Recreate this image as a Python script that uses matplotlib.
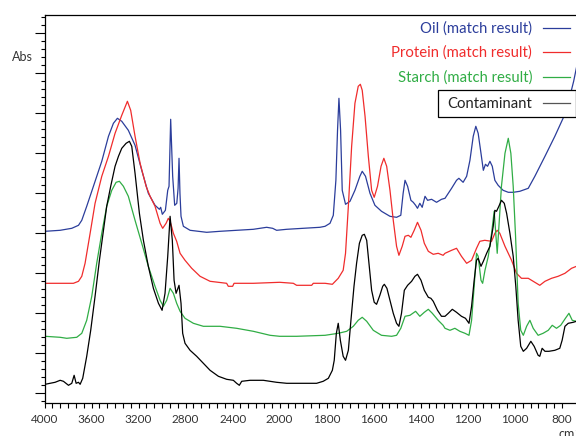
import numpy as np
import matplotlib
matplotlib.use("Agg")
import matplotlib.pyplot as plt
from matplotlib.ticker import FixedLocator, NullFormatter, FixedFormatter

plt.rcParams['font.family'] = ['Lato', 'DejaVu Sans']

# --- spectra (wavenumber cm-1, absorbance, offset traces) ---
oil_wn = [3995, 3867, 3768, 3711, 3683, 3641, 3584, 3513, 3456, 3414, 3380, 3343, 3287, 3230,
          3173, 3117, 3060, 3023, 3012, 2998, 2972, 2952, 2941, 2927, 2910, 2893, 2875, 2864,
          2856, 2848, 2839, 2819, 2762, 2621, 2507, 2366, 2224, 2111, 2060, 2026, 1970, 1900,
          1829, 1807, 1786, 1772, 1761, 1754, 1748, 1741, 1734, 1720, 1701, 1680, 1659, 1649,
          1635, 1616, 1595, 1567, 1531, 1503, 1485, 1475, 1467, 1456, 1442, 1432, 1422, 1414,
          1404, 1394, 1382, 1371, 1354, 1333, 1312, 1297, 1269, 1248, 1238, 1220, 1205, 1191,
          1177, 1166, 1156, 1144, 1134, 1125, 1116, 1106, 1096, 1085, 1071, 1050, 1028, 1007,
          979, 943, 915, 872, 830, 795, 766, 750, 736]
oil_abs = [1.62, 1.63, 1.65, 1.68, 1.73, 1.87, 2.07, 2.32, 2.57, 2.70, 2.75, 2.72, 2.63, 2.48,
           2.23, 2.00, 1.88, 1.84, 1.86, 1.79, 1.83, 2.03, 2.07, 2.74, 2.17, 1.88, 1.90, 2.05,
           2.35, 2.00, 1.77, 1.67, 1.63, 1.61, 1.62, 1.63, 1.64, 1.66, 1.65, 1.63, 1.64, 1.65,
           1.66, 1.67, 1.70, 1.78, 2.13, 2.63, 2.95, 2.63, 2.03, 1.89, 1.92, 2.03, 2.17, 2.22,
           2.17, 2.00, 1.88, 1.82, 1.77, 1.76, 1.78, 2.00, 2.13, 2.07, 1.93, 1.91, 1.88, 1.85,
           1.90, 1.86, 1.97, 1.93, 1.94, 1.91, 1.94, 1.95, 2.05, 2.13, 2.15, 2.11, 2.17, 2.33,
           2.57, 2.67, 2.60, 2.40, 2.23, 2.29, 2.27, 2.32, 2.27, 2.13, 2.08, 2.03, 2.01, 2.01,
           2.02, 2.05, 2.17, 2.37, 2.57, 2.75, 2.97, 3.12, 3.28]

protein_wn = [3995, 3867, 3754, 3711, 3683, 3655, 3612, 3570, 3513, 3456, 3400, 3343, 3295, 3267,
              3230, 3187, 3136, 3102, 3060, 3017, 2995, 2966, 2947, 2932, 2915, 2904, 2876, 2847,
              2805, 2748, 2677, 2592, 2451, 2437, 2400, 2388, 2224, 2000, 1942, 1928, 1864, 1857,
              1807, 1776, 1751, 1730, 1720, 1708, 1694, 1680, 1666, 1657, 1649, 1637, 1623, 1609,
              1598, 1584, 1569, 1557, 1545, 1531, 1517, 1503, 1493, 1479, 1467, 1453, 1442, 1428,
              1414, 1399, 1385, 1368, 1347, 1326, 1305, 1297, 1269, 1248, 1227, 1205, 1184, 1163,
              1149, 1128, 1099, 1085, 1075, 1064, 1042, 1014, 993, 972, 943, 922, 894, 872,
              844, 816, 787, 759, 738]
protein_abs = [1.10, 1.10, 1.10, 1.12, 1.17, 1.30, 1.60, 1.90, 2.17, 2.37, 2.60, 2.78, 2.92, 2.83,
               2.57, 2.30, 2.07, 1.97, 1.87, 1.70, 1.65, 1.70, 1.75, 1.72, 1.65, 1.60, 1.52, 1.40,
               1.33, 1.25, 1.17, 1.12, 1.10, 1.07, 1.07, 1.10, 1.10, 1.11, 1.10, 1.08, 1.08, 1.10,
               1.10, 1.09, 1.15, 1.23, 1.40, 1.87, 2.47, 2.90, 3.07, 3.09, 3.03, 2.77, 2.37, 2.03,
               1.96, 2.07, 2.27, 2.35, 2.27, 2.03, 1.73, 1.47, 1.38, 1.47, 1.57, 1.58, 1.56, 1.63,
               1.71, 1.63, 1.50, 1.42, 1.39, 1.40, 1.38, 1.40, 1.43, 1.45, 1.37, 1.30, 1.33, 1.45,
               1.52, 1.53, 1.52, 1.60, 1.63, 1.60, 1.47, 1.33, 1.20, 1.15, 1.15, 1.12, 1.08, 1.12,
               1.15, 1.17, 1.20, 1.25, 1.27]

starch_wn = [3995, 3867, 3811, 3726, 3683, 3641, 3598, 3556, 3513, 3471, 3428, 3391, 3363, 3329,
             3287, 3230, 3173, 3117, 3060, 3017, 2989, 2961, 2932, 2904, 2876, 2847, 2805, 2734,
             2649, 2507, 2366, 2224, 2082, 2000, 1928, 1807, 1751, 1715, 1687, 1666, 1649, 1630,
             1602, 1567, 1524, 1503, 1485, 1467, 1446, 1422, 1404, 1385, 1368, 1351, 1326, 1305,
             1297, 1276, 1255, 1234, 1212, 1195, 1184, 1173, 1163, 1156, 1144, 1137, 1127, 1113,
             1099, 1088, 1075, 1057, 1042, 1028, 1017, 1007, 997, 986, 975, 964, 950, 936,
             922, 901, 880, 858, 841, 823, 805, 785, 770, 756, 738]
starch_abs = [0.57, 0.56, 0.55, 0.56, 0.60, 0.73, 0.97, 1.30, 1.60, 1.87, 2.03, 2.11, 2.12, 2.07,
              1.97, 1.73, 1.50, 1.27, 1.07, 0.93, 0.87, 0.93, 1.05, 1.00, 0.90, 0.82, 0.75, 0.70,
              0.67, 0.67, 0.65, 0.62, 0.58, 0.57, 0.57, 0.58, 0.60, 0.62, 0.67, 0.73, 0.76, 0.72,
              0.63, 0.58, 0.57, 0.58, 0.65, 0.77, 0.78, 0.82, 0.77, 0.81, 0.84, 0.80, 0.73, 0.68,
              0.65, 0.63, 0.65, 0.62, 0.60, 0.58, 0.73, 1.07, 1.40, 1.37, 1.13, 1.10, 1.23, 1.37,
              1.60, 1.82, 1.40, 2.07, 2.40, 2.55, 2.40, 2.07, 1.57, 0.90, 0.63, 0.58, 0.67, 0.73,
              0.65, 0.58, 0.60, 0.63, 0.68, 0.65, 0.68, 0.75, 0.80, 0.73, 0.72]

contam_wn = [3995, 3952, 3910, 3867, 3839, 3796, 3768, 3748, 3731, 3711, 3697, 3675, 3641, 3607,
             3570, 3533, 3499, 3471, 3437, 3400, 3371, 3343, 3306, 3278, 3258, 3230, 3193, 3159,
             3117, 3074, 3031, 3000, 2975, 2952, 2932, 2913, 2898, 2881, 2856, 2839, 2825, 2805,
             2762, 2706, 2649, 2592, 2521, 2451, 2394, 2366, 2343, 2323, 2252, 2139, 2026, 1970,
             1885, 1843, 1815, 1793, 1776, 1768, 1759, 1751, 1742, 1730, 1720, 1708, 1697, 1684,
             1673, 1661, 1649, 1640, 1630, 1619, 1609, 1598, 1588, 1574, 1562, 1555, 1544, 1531,
             1517, 1503, 1493, 1482, 1470, 1456, 1439, 1425, 1414, 1399, 1385, 1368, 1357, 1347,
             1329, 1312, 1297, 1283, 1266, 1248, 1227, 1210, 1195, 1184, 1173, 1163, 1156, 1144,
             1134, 1120, 1106, 1092, 1085, 1078, 1068, 1057, 1045, 1035, 1021, 1007, 996, 986,
             975, 964, 950, 932, 918, 901, 894, 884, 872, 855, 830, 809, 799, 787,
             773, 752, 738]
contam_abs = [0.09, 0.10, 0.11, 0.13, 0.12, 0.08, 0.10, 0.18, 0.10, 0.11, 0.09, 0.15, 0.37, 0.63,
              0.97, 1.33, 1.63, 1.87, 2.07, 2.27, 2.37, 2.45, 2.50, 2.52, 2.47, 2.20, 1.80, 1.53,
              1.27, 1.05, 0.90, 0.83, 1.00, 1.37, 1.77, 1.53, 1.13, 1.00, 1.08, 0.90, 0.60, 0.50,
              0.43, 0.37, 0.30, 0.23, 0.17, 0.14, 0.13, 0.10, 0.08, 0.12, 0.13, 0.13, 0.11, 0.10,
              0.10, 0.10, 0.12, 0.15, 0.23, 0.33, 0.60, 0.70, 0.53, 0.37, 0.33, 0.43, 0.73, 1.07,
              1.30, 1.50, 1.58, 1.59, 1.53, 1.27, 1.03, 0.91, 0.89, 0.98, 1.07, 1.09, 1.05, 0.93,
              0.80, 0.70, 0.67, 0.80, 1.03, 1.08, 1.12, 1.17, 1.19, 1.13, 1.03, 0.96, 0.95, 0.92,
              0.83, 0.77, 0.77, 0.80, 0.84, 0.81, 0.77, 0.75, 0.70, 0.87, 1.13, 1.33, 1.35, 1.27,
              1.32, 1.40, 1.47, 1.67, 1.83, 1.82, 1.87, 1.93, 1.90, 1.80, 1.60, 1.37, 1.07, 0.73,
              0.47, 0.42, 0.45, 0.52, 0.47, 0.38, 0.37, 0.45, 0.42, 0.42, 0.43, 0.45, 0.53, 0.67,
              0.70, 0.71, 0.72]

series = [
    ("Oil (match result)", oil_wn, oil_abs, "#2b3d9b"),
    ("Protein (match result)", protein_wn, protein_abs, "#f02c2c"),
    ("Starch (match result)", starch_wn, starch_abs, "#30ad45"),
    ("Contaminant", contam_wn, contam_abs, "#000000"),
]

major_wn = [4000, 3600, 3200, 2800, 2400, 2000, 1800, 1600, 1400, 1200, 1000, 800]


# FTIR style axis: scale doubles below 2000 cm-1
def fwd(w):
    w = np.asarray(w, dtype=float)
    return np.where(w >= 2000, (w - 2000) / 400.0, (w - 2000) / 200.0)


def inv(u):
    u = np.asarray(u, dtype=float)
    return np.where(u >= 0, 2000 + 400.0 * u, 2000 + 200.0 * u)


W, H = 576, 436
fig = plt.figure(figsize=(W / 100, H / 100), dpi=100)
ax = fig.add_axes([44.5 / W, (H - 402.7) / H, (W - 44.5) / W, 388.0 / H])

for name, wn, ab, col in series:
    ax.plot(wn, ab, color=col, lw=0.9)

ax.set_xscale('function', functions=(fwd, inv))
ax.set_xlim(4000, 740)
ax.set_ylim(-0.094, 3.786)

# ticks
minor_wn = []
for a, b in zip(major_wn[:-1], major_wn[1:]):
    minor_wn += list(np.linspace(a, b, 7)[1:-1])
ax.xaxis.set_major_locator(FixedLocator(major_wn))
ax.xaxis.set_major_formatter(FixedFormatter([str(v) for v in major_wn]))
ax.xaxis.set_minor_locator(FixedLocator(minor_wn))
ax.xaxis.set_minor_formatter(NullFormatter())

ax.yaxis.set_major_locator(FixedLocator(np.arange(0, 3.7, 0.4)))
ax.yaxis.set_minor_locator(FixedLocator(np.arange(-0.08, 3.78, 0.08)))
ax.yaxis.set_major_formatter(NullFormatter())

ax.tick_params(axis='x', which='both', direction='out', length=3.4, width=0.8,
               labelsize=8.5, labelcolor='#333333', pad=5)
ax.tick_params(axis='y', which='major', direction='out', length=7.2, width=0.8)
ax.tick_params(axis='y', which='minor', direction='out', length=3.2, width=0.8)

ax.spines['right'].set_visible(False)
for s in ('left', 'bottom', 'top'):
    ax.spines[s].set_linewidth(0.9)

fig.text(12 / W, 1 - 57 / H, "Abs", fontsize=9, color='#333333', va='center', ha='left')
# unit label sits on the lower right corner, partly outside the canvas as in the reference
fig.text(558 / W, 1 - 434 / H, "cm$^{-1}$", fontsize=9, color='#333333', va='center', ha='left')

# legend drawn by hand: text right aligned, sample line to the right
leg_y = [29, 53, 78, 104]
for (name, wn, ab, col), y in zip(series, leg_y):
    tc = col if name != "Contaminant" else '#222222'
    lc = col if name != "Contaminant" else '#555555'
    fig.text(532 / W, 1 - y / H, name, fontsize=10.7, color=tc, ha='right', va='center')
    fig.add_artist(plt.Line2D([543 / W, 570 / W], [1 - (y - 1) / H, 1 - (y - 1) / H],
                              color=lc, lw=0.9, transform=fig.transFigure))
box = plt.Rectangle((438 / W, 1 - 117 / H), (W - 438) / W, 27 / H, transform=fig.transFigure,
                    fill=True, facecolor='white', edgecolor='black', lw=0.9)
box.set_zorder(1)
fig.add_artist(box)

fig.savefig("out.png", dpi=100)
